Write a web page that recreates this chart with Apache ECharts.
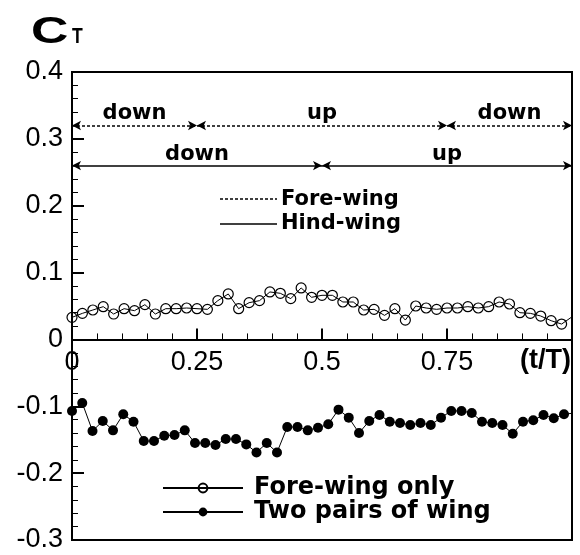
<!DOCTYPE html>
<html>
<head>
<meta charset="utf-8">
<script src="https://cdn.jsdelivr.net/npm/echarts@6/dist/echarts.min.js"></script>
<style>
  html, body { margin: 0; padding: 0; background: #fff; }
  #ct-chart { width: 580px; height: 555px; }
</style>
</head>
<body>
<div id="ct-chart"></div>
<script>
// time stations (t/T) of the fore-wing-only run, last one sits just past the frame
const tFore = [
  0, 0.0208, 0.0417, 0.0625, 0.0833, 0.1042, 0.125, 0.1458, 0.1667, 0.1875,
  0.2083, 0.2292, 0.25, 0.2708, 0.2917, 0.3125, 0.3333, 0.3542, 0.375, 0.3958,
  0.4167, 0.4375, 0.4583, 0.4792, 0.5, 0.5208, 0.5417, 0.5625, 0.5833, 0.6042,
  0.625, 0.6458, 0.6667, 0.6875, 0.7083, 0.7292, 0.75, 0.7708, 0.7917, 0.8125,
  0.8333, 0.8542, 0.875, 0.8958, 0.9167, 0.9375, 0.9583, 0.9792, 1.01
];
const ctForeOnly = [
  0.033, 0.039, 0.044, 0.049, 0.038, 0.046, 0.043, 0.052, 0.038, 0.046,
  0.046, 0.047, 0.046, 0.045, 0.058, 0.068, 0.046, 0.055, 0.058, 0.071,
  0.069, 0.061, 0.077, 0.063, 0.066, 0.066, 0.056, 0.056, 0.044, 0.045,
  0.036, 0.046, 0.029, 0.050, 0.047, 0.045, 0.047, 0.047, 0.049, 0.047,
  0.049, 0.056, 0.053, 0.040, 0.039, 0.035, 0.028, 0.023, 0.039
];

// time stations of the two-pairs run
const tBoth = [
  0, 0.0205, 0.041, 0.0615, 0.082, 0.1025, 0.123, 0.1435, 0.164, 0.1845,
  0.205, 0.2255, 0.246, 0.2665, 0.287, 0.3075, 0.328, 0.3485, 0.369, 0.3895,
  0.41, 0.4305, 0.451, 0.4715, 0.492, 0.5125, 0.533, 0.5535, 0.574, 0.5945,
  0.615, 0.6355, 0.656, 0.6765, 0.697, 0.7175, 0.738, 0.7585, 0.779, 0.7995,
  0.82, 0.8405, 0.861, 0.8815, 0.902, 0.9225, 0.943, 0.9635, 0.984, 1.0045
];
const ctTwoPairs = [
  -0.107, -0.095, -0.137, -0.122, -0.136, -0.112, -0.123, -0.152, -0.152, -0.144,
  -0.143, -0.136, -0.155, -0.155, -0.158, -0.149, -0.149, -0.157, -0.169, -0.155,
  -0.169, -0.131, -0.131, -0.136, -0.132, -0.127, -0.105, -0.117, -0.140, -0.122,
  -0.113, -0.123, -0.125, -0.128, -0.125, -0.128, -0.117, -0.107, -0.107, -0.110,
  -0.123, -0.125, -0.128, -0.141, -0.123, -0.121, -0.113, -0.118, -0.112, -0.110
];

// stroke phases: [from, to, label]
const foreStrokes = [[0, 0.25, 'down'], [0.25, 0.75, 'up'], [0.75, 1, 'down']];
const hindStrokes = [[0, 0.5, 'down'], [0.5, 1, 'up']];
const foreLevel = 0.32;
const hindLevel = 0.26;

const seriesNames = ['Fore-wing only', 'Two pairs of wing'];
const xTicks = [0, 0.25, 0.5, 0.75];
const yMin = -0.3, yMax = 0.4;

const labelFont = 'Liberation Sans';
const boldFont = 'DejaVu Sans';

// grid box in pixels
const gridTop = 72, gridBottom = 15, chartH = 555;
const plotH = chartH - gridTop - gridBottom;
// the t axis sits on C_T = 0, so shift it up from the bottom edge
const zeroOffset = -plotH * (0 - yMin) / (yMax - yMin);

const pairUp = (xs, ys) => ys.map((v, i) => [xs[i], v]);

const strokeLines = (list, level, dashed) => list.map(s => [
  {
    name: s[2],
    coord: [s[0], level],
    lineStyle: { color: '#000', width: 1.5, type: dashed ? [3, 2] : 'solid' }
  },
  { coord: [s[1], level] }
]);

const options = {
  animation: false,
  backgroundColor: '#fff',
  grid: {
    left: 72, right: 8, top: gridTop, bottom: gridBottom,
    show: true,
    borderColor: '#000',
    borderWidth: 2,
    outerBoundsMode: 'none'
  },
  legend: {
    data: seriesNames,
    orient: 'vertical',
    left: 157,
    top: 471,
    itemWidth: 80,
    itemHeight: 11,
    itemGap: 0,
    selectedMode: false,
    textStyle: {
      color: '#000',
      fontFamily: boldFont,
      fontWeight: 'bold',
      fontSize: 24,
      padding: [0, 0, 0, 6]
    }
  },
  xAxis: {
    type: 'value',
    min: 0,
    max: 1,
    interval: 0.25,
    offset: zeroOffset,
    axisLine: { onZero: false, lineStyle: { color: '#000', width: 2 } },
    axisTick: { inside: true, length: 11, lineStyle: { color: '#000', width: 2 } },
    minorTick: { show: true, splitNumber: 5, length: 6, lineStyle: { color: '#000', width: 1 } },
    splitLine: { show: false },
    axisLabel: {
      color: '#000',
      fontFamily: labelFont,
      fontSize: 27,
      margin: 10,
      formatter: v => (xTicks.indexOf(v) >= 0 ? String(v) : '')
    }
  },
  yAxis: {
    type: 'value',
    min: yMin,
    max: yMax,
    interval: 0.1,
    axisLine: { show: true, onZero: false, lineStyle: { color: '#000', width: 2 } },
    axisTick: { show: true, inside: true, length: 12, lineStyle: { color: '#000', width: 2 } },
    minorTick: { show: true, splitNumber: 5, length: 6, lineStyle: { color: '#000', width: 1 } },
    splitLine: { show: false },
    axisLabel: { color: '#000', fontFamily: labelFont, fontSize: 27, margin: 9 }
  },
  graphic: [
    {
      type: 'text', x: 31, y: 33, scaleX: 1.4,
      style: { text: 'C', fontFamily: labelFont, fontWeight: 'bold', fontSize: 37, fill: '#000', align: 'left', verticalAlign: 'middle' }
    },
    {
      type: 'text', x: 72, y: 37, scaleX: 0.8,
      style: { text: 'T', fontFamily: labelFont, fontWeight: 'bold', fontSize: 22, fill: '#000', align: 'left', verticalAlign: 'middle' }
    },
    {
      type: 'text', x: 571, y: 361,
      style: { text: '(t/T)', fontFamily: labelFont, fontWeight: 'bold', fontSize: 27, fill: '#000', align: 'right', verticalAlign: 'middle' }
    },
    {
      type: 'line', shape: { x1: 220, y1: 199, x2: 277, y2: 199 },
      style: { stroke: '#000', lineWidth: 1.5, lineDash: [3, 2] }
    },
    {
      type: 'line', shape: { x1: 220, y1: 224, x2: 277, y2: 224 },
      style: { stroke: '#000', lineWidth: 1.5 }
    },
    {
      type: 'text', x: 281, y: 200,
      style: { text: 'Fore-wing', fontFamily: boldFont, fontWeight: 'bold', fontSize: 21, fill: '#000', verticalAlign: 'middle' }
    },
    {
      type: 'text', x: 281, y: 224,
      style: { text: 'Hind-wing', fontFamily: boldFont, fontWeight: 'bold', fontSize: 21, fill: '#000', verticalAlign: 'middle' }
    }
  ],
  series: [
    {
      name: seriesNames[0],
      type: 'line',
      data: pairUp(tFore, ctForeOnly),
      symbol: 'circle',
      symbolSize: 10,
      showAllSymbol: true,
      clip: true,
      lineStyle: { color: '#000', width: 1 },
      itemStyle: { color: 'rgba(0,0,0,0)', borderColor: '#000', borderWidth: 1.2 },
      emphasis: { disabled: true },
      markLine: {
        silent: true,
        symbol: ['arrow', 'arrow'],
        symbolSize: [7, 9],
        label: {
          show: true,
          position: 'insideMiddleTop',
          distance: 1,
          formatter: '{b}',
          color: '#000',
          fontFamily: boldFont,
          fontWeight: 'bold',
          fontSize: 21
        },
        emphasis: { disabled: true },
        data: strokeLines(foreStrokes, foreLevel, true).concat(strokeLines(hindStrokes, hindLevel, false))
      }
    },
    {
      name: seriesNames[1],
      type: 'line',
      data: pairUp(tBoth, ctTwoPairs),
      symbol: 'circle',
      symbolSize: 10,
      showAllSymbol: true,
      clip: true,
      lineStyle: { color: '#000', width: 1 },
      itemStyle: { color: '#000' },
      emphasis: { disabled: true }
    }
  ]
};

const chart = echarts.init(document.getElementById('ct-chart'));
chart.setOption(options);
window.addEventListener('resize', () => chart.resize());
</script>
</body>
</html>
